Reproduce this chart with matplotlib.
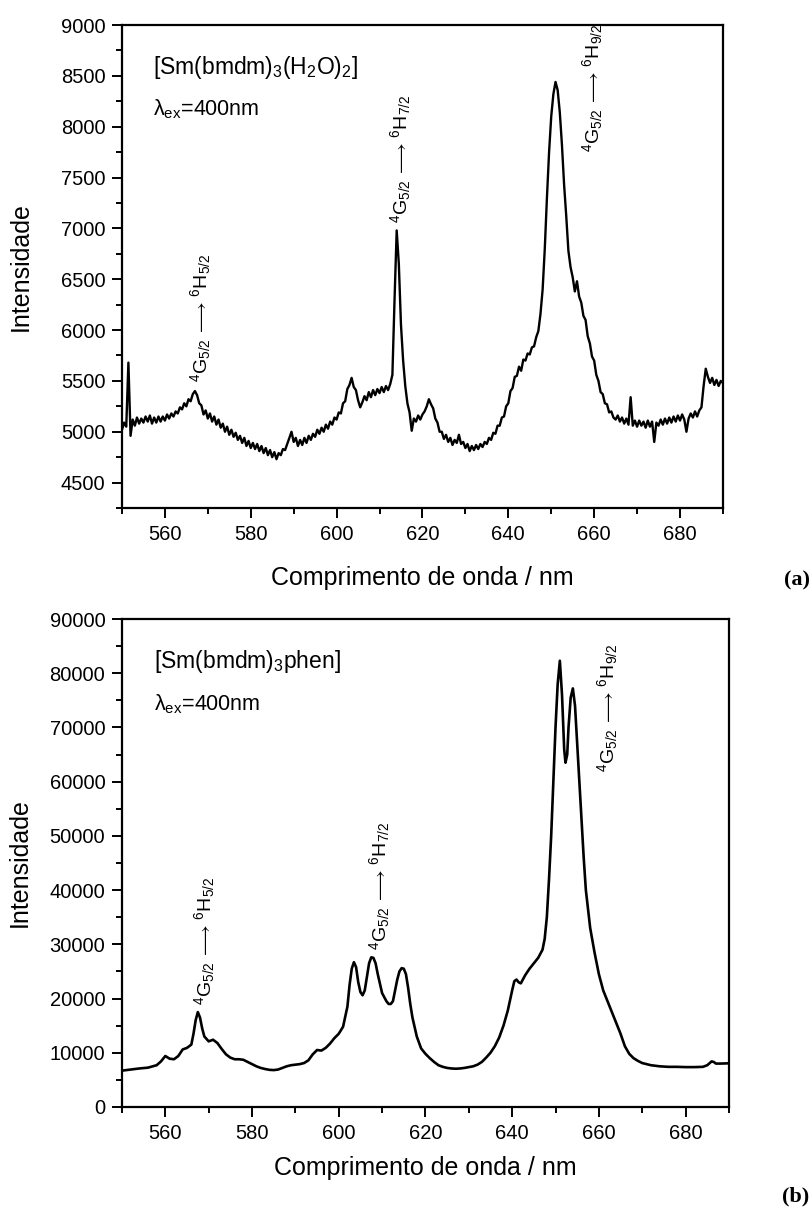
import numpy as np
import matplotlib
matplotlib.use("Agg")
import matplotlib.pyplot as plt
from matplotlib.ticker import MultipleLocator

plt.rcParams["font.family"] = ["Liberation Sans", "DejaVu Sans"]
plt.rcParams["mathtext.fontset"] = "custom"
plt.rcParams["mathtext.rm"] = "Liberation Sans"
plt.rcParams["mathtext.it"] = "Liberation Sans:italic"
plt.rcParams["mathtext.bf"] = "Liberation Sans:bold"

# (a) [Sm(bmdm)3(H2O)2] emission, sampled every 0.5 nm from 550 to 690 nm
wl_a = np.arange(550.0, 690.5, 0.5)
int_a = [
    5020, 5090, 5050, 5680, 4960, 5120, 5060, 5140, 5080, 5130,
    5090, 5150, 5100, 5160, 5080, 5140, 5090, 5150, 5100, 5150,
    5110, 5170, 5130, 5180, 5150, 5200, 5180, 5240, 5220, 5280,
    5250, 5320, 5300, 5370, 5400, 5360, 5280, 5260, 5170, 5210,
    5130, 5180, 5100, 5150, 5070, 5120, 5040, 5080, 5000, 5050,
    4970, 5020, 4950, 4990, 4920, 4960, 4890, 4940, 4860, 4910,
    4840, 4890, 4830, 4880, 4810, 4860, 4790, 4840, 4770, 4820,
    4750, 4800, 4730, 4790, 4770, 4830, 4820, 4880, 4940, 5000,
    4900, 4940, 4860, 4920, 4870, 4940, 4890, 4960, 4920, 4980,
    4950, 5020, 4980, 5040, 5000, 5070, 5030, 5100, 5070, 5140,
    5120, 5190, 5180, 5280, 5300, 5420, 5460, 5530, 5440, 5410,
    5310, 5240, 5290, 5350, 5310, 5390, 5340, 5410, 5360, 5420,
    5380, 5440, 5390, 5450, 5410, 5470, 5560, 6300, 6980, 6650,
    6050, 5700, 5450, 5280, 5190, 5010, 5130, 5100, 5160, 5120,
    5170, 5200, 5250, 5320, 5270, 5230, 5130, 5090, 5000, 5000,
    4930, 4970, 4900, 4940, 4870, 4920, 4890, 4970, 4880, 4900,
    4840, 4880, 4810, 4860, 4820, 4870, 4830, 4880, 4850, 4900,
    4880, 4940, 4920, 4990, 4980, 5060, 5060, 5140, 5150, 5250,
    5280, 5400, 5430, 5540, 5550, 5640, 5600, 5710, 5700, 5770,
    5760, 5830, 5840, 5930, 5990, 6160, 6400, 6800, 7300, 7750,
    8100, 8320, 8440, 8360, 8140, 7820, 7430, 7120, 6780, 6620,
    6520, 6380, 6480, 6330, 6270, 6140, 6100, 5940, 5870, 5740,
    5700, 5560, 5500, 5390, 5370, 5280, 5270, 5190, 5200, 5140,
    5120, 5160, 5100, 5140, 5080, 5130, 5070, 5340, 5060, 5110,
    5050, 5110, 5060, 5100, 5040, 5110, 5050, 5100, 4900, 5090,
    5060, 5120, 5070, 5130, 5080, 5140, 5090, 5150, 5100, 5160,
    5110, 5170, 5120, 5000, 5130, 5180, 5140, 5200, 5150, 5210,
    5240, 5450, 5620, 5540, 5480, 5530, 5460, 5510, 5450, 5500,
    5480,
]

# (b) [Sm(bmdm)3phen] emission
wl_b = [
    550, 552, 554, 556, 558, 559, 560, 561, 562, 563, 564, 565, 566, 566.5,
    567, 567.5, 568, 568.5, 569, 570, 571, 572, 573, 574, 575, 576, 577,
    578, 579, 580, 581, 582, 583, 584, 585, 586, 587, 588, 589, 590, 591,
    592, 593, 594, 595, 596, 597, 598, 599, 600, 601, 602, 602.5, 603,
    603.5, 604, 604.5, 605, 605.5, 606, 606.5, 607, 607.5, 608, 608.5, 609,
    610, 611, 611.5, 612, 612.5, 613, 613.5, 614, 614.5, 615, 615.5, 616,
    616.5, 617, 618, 619, 620, 621, 622, 623, 624, 625, 626, 627, 628, 629,
    630, 631, 632, 633, 634, 635, 636, 637, 638, 639, 640, 640.5, 641,
    641.5, 642, 643, 644, 645, 646, 647, 647.5, 648, 648.5, 649, 649.5,
    650, 650.5, 651, 651.5, 652, 652.3, 652.7, 653, 653.5, 654, 654.5, 655,
    655.5, 656, 656.5, 657, 658, 659, 660, 661, 662, 663, 664, 665, 666,
    667, 668, 669, 670, 672, 674, 676, 678, 680, 682, 684, 685, 686, 686.5,
    687, 688, 690,
]
int_b = [
    6700, 6900, 7100, 7250, 7700, 8400, 9400, 8900, 8800, 9400, 10600, 10900, 11500, 13500,
    16000, 17500, 16500, 14500, 13000, 12100, 12400, 11800, 10700, 9700, 9100, 8800, 8800,
    8700, 8300, 7900, 7500, 7200, 7000, 6850, 6800, 6900, 7200, 7500, 7700, 7800, 7900,
    8100, 8600, 9700, 10500, 10400, 10900, 11700, 12700, 13500, 14800, 18500, 22500, 25500,
    26700, 25800, 23000, 21200, 20600, 21500, 24000, 26500, 27600, 27500, 26500, 24500,
    21000, 19500, 19000, 19000, 19500, 21500, 23500, 25000, 25600, 25500, 24500, 22000,
    19000, 16500, 13000, 10800, 9800, 9000, 8300, 7700, 7400, 7200, 7100, 7050, 7100, 7200,
    7350, 7500, 7800, 8300, 9100, 10000, 11200, 12800, 15000, 17800, 21500, 23200, 23500,
    23000, 22800, 24300, 25500, 26500, 27500, 29000, 31000, 35000, 42000, 50000, 60000,
    70000, 78000, 82300, 76000, 66000, 63500, 65000, 70000, 75500, 77200, 74000, 67000,
    60000, 53000, 46000, 40000, 33000, 28500, 24500, 21500, 19500, 17500, 15500, 13500, 11200,
    9800, 9000, 8500, 8100, 7700, 7500, 7400, 7400, 7350, 7350, 7400, 7700, 8400, 8300,
    8000, 8000, 8050,
]

titles = [r"[Sm(bmdm)$_3$(H$_2$O)$_2$]", r"[Sm(bmdm)$_3$phen]"]
excitation = r"λ$_{\rm ex}$=400nm"
final_states = ["5/2", "7/2", "9/2"]
# transition label anchors (wavelength, intensity at label base)
labels_a = [(568.2, 5490), (614.8, 7050), (659.7, 7750)]
labels_b = [(569.1, 18800), (609.5, 29000), (662.1, 61800)]

fig = plt.figure(figsize=(8.12, 12.09), dpi=100)
ax_a = fig.add_axes([0.1502, 0.5798, 0.7401, 0.3995])
ax_b = fig.add_axes([0.1502, 0.0844, 0.7475, 0.4036])

ax_a.plot(wl_a, int_a, color="black", lw=1.7)
ax_b.plot(wl_b, int_b, color="black", lw=1.9)

ax_a.set_ylim(4250, 9000)
ax_a.yaxis.set_major_locator(MultipleLocator(500))
ax_a.yaxis.set_minor_locator(MultipleLocator(250))
ax_b.set_ylim(0, 90000)
ax_b.yaxis.set_major_locator(MultipleLocator(10000))
ax_b.yaxis.set_minor_locator(MultipleLocator(5000))

for ax, title, anchors, xl_pad in [(ax_a, titles[0], labels_a, -0.12),
                                    (ax_b, titles[1], labels_b, -0.10)]:
    ax.set_xlim(550, 690)
    ax.xaxis.set_major_locator(MultipleLocator(20))
    ax.xaxis.set_minor_locator(MultipleLocator(10))
    for s in ax.spines.values():
        s.set_linewidth(1.6)
    ax.tick_params(which="both", direction="out", top=False, right=False,
                   labelsize=14.5, width=1.4)
    ax.tick_params(which="major", length=7, pad=5)
    ax.tick_params(which="minor", length=4)
    ax.set_xlabel("Comprimento de onda / nm", fontsize=18)
    ax.set_ylabel("Intensidade", fontsize=18)
    ax.xaxis.set_label_coords(0.5, xl_pad)
    ax.yaxis.set_label_coords(-0.148, 0.5)
    ax.text(0.052, 0.913, title, transform=ax.transAxes, fontsize=16.5,
            ha="left", va="center")
    ax.text(0.052, 0.826, excitation, transform=ax.transAxes, fontsize=15.5,
            ha="left", va="center")
    for (x, y), j in zip(anchors, final_states):
        ax.text(x, y, r"$^4$G$_{5/2}\,\longrightarrow\,{}^6$H$_{%s}$" % j,
                rotation=90, ha="center", va="bottom", fontsize=14)

fig.text(0.997, 0.520, "(a)", family="Liberation Serif", weight="bold",
         fontsize=16, ha="right", va="center")
fig.text(0.997, 0.010, "(b)", family="Liberation Serif", weight="bold",
         fontsize=16, ha="right", va="center")

fig.savefig("out.png", dpi=100, facecolor="white")
